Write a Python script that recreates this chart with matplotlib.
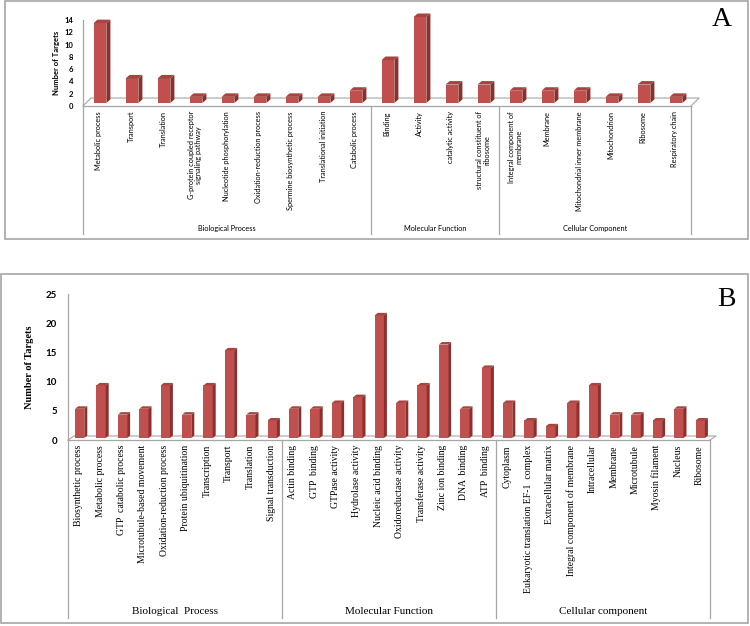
import matplotlib.pyplot as plt
from matplotlib.patches import Polygon, Rectangle
from matplotlib.transforms import blended_transform_factory

# panel A data
a_labels = ['Metabolic process', 'Transport', 'Translation',
            'G-protein coupled receptor\nsignaling pathway', 'Nucleotide phosphorylation',
            'Oxidation-reduction process', 'Spermine biosynthetic process',
            'Translational initiation', 'Catabolic process',
            'Binding', 'Activity', 'catalytic activity', 'structural constituent of\nribosome',
            'Integral component of\nmembrane', 'Membrane', 'Mitochondrial inner membrane',
            'Mitochondrion', 'Ribosome', 'Respiratory chain']
a_values = [13, 4, 4, 1, 1, 1, 1, 1, 2, 7, 14, 3, 3, 2, 2, 2, 1, 3, 1]
a_groups = ['Biological Process', 'Molecular Function', 'Cellular Component']
a_group_sizes = [9, 4, 6]
a_yticks = [0, 2, 4, 6, 8, 10, 12, 14]

# panel B data
b_labels = ['Biosynthetic process', 'Metabolic process', 'GTP  catabolic process',
            'Microtubule-based movement', 'Oxidation-reduction process', 'Protein ubiquitination',
            'Transcription', 'Transport', 'Translation', 'Signal transduction',
            'Actin binding', 'GTP  binding', 'GTPase activity', 'Hydrolase activity',
            'Nucleic acid binding', 'Oxidoreductase activity', 'Transferase activity',
            'Zinc ion binding', 'DNA  binding', 'ATP  binding',
            'Cytoplasm', 'Eukaryotic translation EF-1  complex', 'Extracellular matrix',
            'Integral component of membrane', 'Intracellular', 'Membrane', 'Microtubule',
            'Myosin filament', 'Nucleus', 'Ribosome']
b_values = [5, 9, 4, 5, 9, 4, 9, 15, 4, 3,
            5, 5, 6, 7, 21, 6, 9, 16, 5, 12,
            6, 3, 2, 6, 9, 4, 4, 3, 5, 3]
b_groups = ['Biological  Process', 'Molecular Function', 'Cellular component']
b_group_sizes = [10, 10, 10]
b_yticks = [0, 5, 10, 15, 20, 25]

W, H = 750, 626
fig = plt.figure(figsize=(W / 100, H / 100), dpi=100)

FRONT = '#C0504D'
SIDE = '#8A302E'
TOP = '#A84340'
GRID = '#A6A6A6'
SANS = 'Lato'
SERIF = 'Liberation Serif'


def add_ax(left, top, right, bottom):
    return fig.add_axes([left / W, 1 - bottom / H, (right - left) / W, (bottom - top) / H])


def bars3d(ax, values, width, depth, lift, floor, ymax):
    n = len(values)
    ax.set_xlim(-0.5, n - 0.5)
    ax.set_ylim(0, ymax)
    pos = ax.get_position()
    ux = n / (pos.width * W)
    uy = ymax / (pos.height * H)
    dx, dy = depth[0] * ux, depth[1] * uy
    ox, oy = lift[0] * ux, lift[1] * uy
    for i, v in enumerate(values):
        xl = i - width / 2 + ox
        xr = i + width / 2 + ox
        ax.add_patch(Rectangle((xl, oy), width, v, facecolor=FRONT, edgecolor='none',
                               clip_on=False, zorder=3))
        ax.add_patch(Polygon([(xr, oy), (xr, v + oy), (xr + dx, v + oy + dy), (xr + dx, oy + dy)],
                             facecolor=SIDE, edgecolor='none', clip_on=False, zorder=3))
        ax.add_patch(Polygon([(xl, v + oy), (xr, v + oy), (xr + dx, v + oy + dy), (xl + dx, v + oy + dy)],
                             facecolor=TOP, edgecolor='none', clip_on=False, zorder=3))
    # floor
    fx, fy = floor[0] * ux, floor[1] * uy
    ax.plot([-0.5, -0.5 + fx, n - 0.5 + fx, n - 0.5], [0, fy, fy, 0],
            color=GRID, lw=0.8, clip_on=False, zorder=2)
    for s in ['top', 'right']:
        ax.spines[s].set_visible(False)
    for s in ['left', 'bottom']:
        ax.spines[s].set_color(GRID)
        ax.spines[s].set_linewidth(0.9)
    ax.set_xticks([])


def groups(ax, names, sizes, y_top, y_bot, y_lab, font, size):
    tr = blended_transform_factory(ax.transData, fig.transFigure)
    edge = -0.5
    ax.plot([edge, edge], [1 - y_top / H, 1 - y_bot / H], color=GRID, lw=0.9,
            transform=tr, clip_on=False)
    for name, k in zip(names, sizes):
        ax.text(edge + k / 2, 1 - y_lab / H, name, transform=tr, ha='center', va='center',
                fontsize=size, family=font)
        edge += k
        ax.plot([edge, edge], [1 - y_top / H, 1 - y_bot / H], color=GRID, lw=0.9,
                transform=tr, clip_on=False)


def cat_labels(ax, labels, y_px, font, size):
    tr = blended_transform_factory(ax.transData, fig.transFigure)
    for i, lab in enumerate(labels):
        ax.text(i, 1 - y_px / H, lab, transform=tr, rotation=90, ha='center', va='top',
                multialignment='center', fontsize=size, family=font, linespacing=1.1)


# panel borders
fig.patches.append(Rectangle((5 / W, 1 - 239 / H), 743 / W, 238 / H, transform=fig.transFigure,
                             fill=False, edgecolor=GRID, lw=1.2))
fig.patches.append(Rectangle((1 / W, 1 - 623 / H), 747 / W, 349 / H, transform=fig.transFigure,
                             fill=False, edgecolor=GRID, lw=1.2))

# ---- panel A ----
axa = add_ax(83, 20, 691, 106)
bars3d(axa, a_values, 0.4, depth=(4, 3.5), lift=(1, 3), floor=(8, 8), ymax=14)
axa.set_yticks(a_yticks)
axa.tick_params(axis='y', length=0, pad=7)
for t in axa.get_yticklabels():
    t.set_fontsize(5.5)
    t.set_family(SANS)
    t.set_fontweight('bold')
axa.set_ylabel('Number of Targets', fontsize=5.5, family=SANS, fontweight='bold', labelpad=3)
cat_labels(axa, a_labels, 111, SANS, 5.3)
groups(axa, a_groups, a_group_sizes, 106, 234, 228, SANS, 5.3)
fig.text(722 / W, 1 - 20 / H, 'A', fontsize=20, family=SERIF, ha='center', va='center')

# ---- panel B ----
axb = add_ax(68, 294, 710, 440)
bars3d(axb, b_values, 0.43, depth=(3, 2.5), lift=(1, 2), floor=(6, 4), ymax=25)
axb.set_yticks(b_yticks)
axb.tick_params(axis='y', length=0, pad=8)
for t in axb.get_yticklabels():
    t.set_fontsize(7)
    t.set_family(SANS)
    t.set_fontweight('bold')
axb.set_ylabel('Number of Targets', fontsize=7.5, family=SERIF, fontweight='bold', labelpad=8)
cat_labels(axb, b_labels, 445, SERIF, 7)
groups(axb, b_groups, b_group_sizes, 440, 618, 611, SERIF, 8)
fig.text(726 / W, 1 - 300 / H, 'B', fontsize=20, family=SERIF, ha='center', va='center')

plt.savefig('out.png', dpi=100)
plt.close()
